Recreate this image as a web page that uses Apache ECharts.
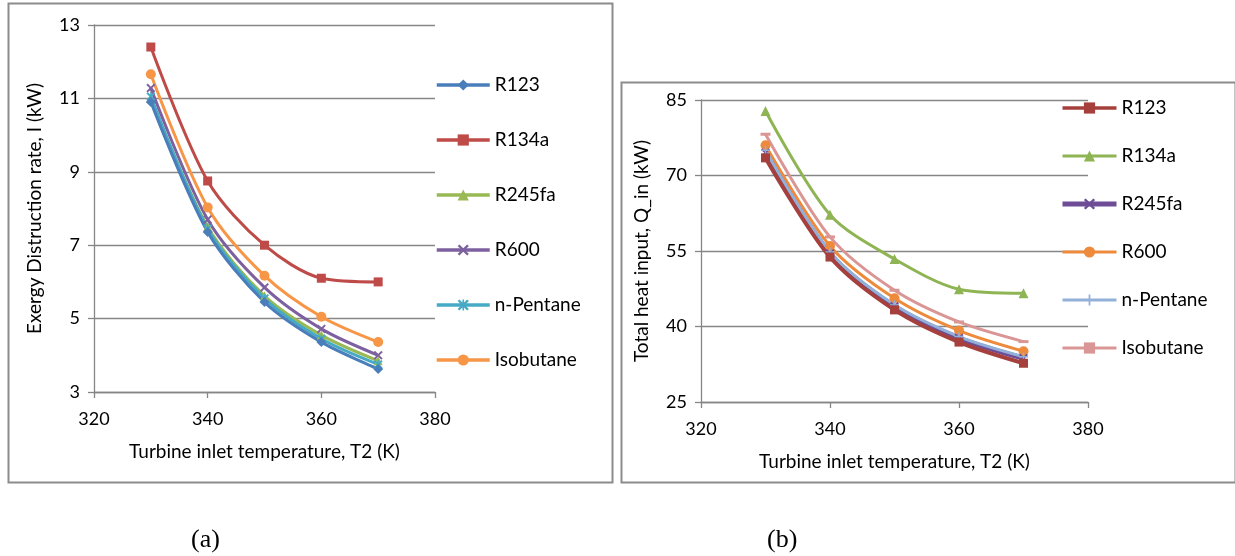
<!DOCTYPE html>
<html>
<head>
<meta charset="utf-8">
<script src="https://cdn.jsdelivr.net/npm/echarts@6/dist/echarts.min.js"></script>
<style>
  html, body { margin: 0; padding: 0; background: #fff; }
  #chart { width: 1235px; height: 556px; }
</style>
</head>
<body>
<div id="chart"></div>
<script>
// Turbine inlet temperature (K)
const temps = [330, 340, 350, 360, 370];
const xTicks = [320, 340, 360, 380];

// (a) exergy destruction rate, I (kW)
const exR123 = [10.9, 7.36, 5.45, 4.36, 3.63];
const exR134a = [12.4, 8.75, 7.0, 6.1, 6.0];
const exR245fa = [11.0, 7.5, 5.62, 4.55, 3.85];
const exR600 = [11.28, 7.7, 5.85, 4.72, 4.0];
const exPentane = [11.05, 7.45, 5.55, 4.45, 3.75];
const exIsobutane = [11.66, 8.03, 6.17, 5.05, 4.36];

// (b) total heat input, Q_in (kW)
const qR123 = [73.5, 53.8, 43.3, 36.9, 32.7];
const qR134a = [82.8, 62.2, 53.4, 47.4, 46.6];
const qR245fa = [74.5, 54.5, 44.0, 37.7, 33.7];
const qR600 = [76.0, 56.0, 45.6, 39.2, 35.1];
const qPentane = [75.0, 54.8, 44.3, 38.0, 34.0];
const qIsobutane = [78.2, 57.8, 47.2, 40.9, 37.0];

const names = ["R123", "R134a", "R245fa", "R600", "n-Pentane", "Isobutane"];

const FONT = "Lato";
const CROSS = "path://M0,1.5L1.5,0L5,3.5L8.5,0L10,1.5L6.5,5L10,8.5L8.5,10L5,6.5L1.5,10L0,8.5L3.5,5Z";
const STAR = "path://M0,1.5L1.5,0L4.3,2.8L4.3,0L5.7,0L5.7,2.8L8.5,0L10,1.5L6.5,5L10,8.5L8.5,10L5.7,7.2L5.7,10L4.3,10L4.3,7.2L1.5,10L0,8.5L3.5,5Z";
const PLUS = "path://M4.2,0H5.8V4.2H10V5.8H5.8V10H4.2V5.8H0V4.2H4.2Z";
const DASH = "path://M0,0H10V3H0Z";

function pairs(values) {
  return temps.map((t, i) => [t, values[i]]);
}

function lineSeries(name, values, color, symbol, size, width, idx) {
  return {
    name: name,
    type: "line",
    xAxisIndex: idx,
    yAxisIndex: idx,
    smooth: 0.3,
    data: pairs(values),
    symbol: symbol,
    symbolSize: size,
    showAllSymbol: true,
    lineStyle: { color: color, width: width },
    itemStyle: { color: color },
    emphasis: { disabled: true },
    animation: false,
  };
}

function xAxis(idx) {
  return {
    type: "value",
    gridIndex: idx,
    min: 320,
    max: 380,
    interval: 20,
    name: "Turbine inlet temperature, T2 (K)",
    nameLocation: "middle",
    nameGap: 50,
    nameTextStyle: { fontFamily: FONT, fontSize: 19, color: "#000" },
    axisLine: { show: true, lineStyle: { color: "#868686", width: 1.3 } },
    axisTick: { show: true, length: 6, lineStyle: { color: "#868686", width: 1.3 } },
    axisLabel: {
      fontFamily: FONT, fontSize: 18, color: "#000", margin: 18,
      formatter: (v) => (xTicks.includes(v) ? String(v) : ""),
    },
    splitLine: { show: false },
  };
}

function yAxis(idx, min, max, step, title) {
  return {
    type: "value",
    gridIndex: idx,
    min: min,
    max: max,
    interval: step,
    name: title,
    nameLocation: "middle",
    nameGap: 50,
    nameTextStyle: { fontFamily: FONT, fontSize: 19, color: "#000" },
    axisLine: { show: true, lineStyle: { color: "#868686", width: 1.3 } },
    axisTick: { show: true, length: 6, lineStyle: { color: "#868686", width: 1.3 } },
    axisLabel: { fontFamily: FONT, fontSize: 18, color: "#000", margin: 14 },
    splitLine: { show: true, lineStyle: { color: "#868686", width: 1.3 } },
  };
}

const leftColors = ["#4A7EBB", "#BE4B48", "#98B954", "#7D60A0", "#46AAC5", "#F79646"];
const rightColors = ["#A5403D", "#8FB453", "#6E4D96", "#EE8A3C", "#93B0D9", "#D99694"];
const rightLegendWidths = [3.5, 3, 5, 3, 3, 3];

const chart = echarts.init(document.getElementById("chart"), null, { renderer: "canvas" });

chart.setOption({
  backgroundColor: "#fff",
  animation: false,
  grid: [
    { left: 94, top: 25, width: 341, height: 367 },
    { left: 701, top: 100, width: 387, height: 302 },
  ],
  xAxis: [xAxis(0), xAxis(1)],
  yAxis: [
    yAxis(0, 3, 13, 2, "Exergy Distruction rate, I (kW)"),
    yAxis(1, 25, 85, 15, "Total heat input, Q_in (kW)"),
  ],
  legend: [
    {
      data: names.map((n) => ({ name: n, lineStyle: { width: 3.5 } })),
      orient: "vertical",
      left: 435,
      top: 75.5,
      padding: 0,
      itemWidth: 53,
      itemHeight: 14,
      itemGap: 36,
      textStyle: { fontFamily: FONT, fontSize: 19, color: "#000" },
      selectedMode: false,
    },
    {
      data: names.map((n, i) => ({ name: n + " ", lineStyle: { width: rightLegendWidths[i] } })),
      orient: "vertical",
      left: 1060,
      top: 98.5,
      padding: 0,
      itemWidth: 54,
      itemHeight: 14,
      itemGap: 29,
      textStyle: { fontFamily: FONT, fontSize: 19, color: "#000" },
      selectedMode: false,
    },
  ],
  title: [
    { text: "(a)", left: 191, top: 527, padding: 0, textStyle: { fontFamily: "Liberation Serif", fontSize: 26, fontWeight: "normal", color: "#000" } },
    { text: "(b)", left: 767, top: 527, padding: 0, textStyle: { fontFamily: "Liberation Serif", fontSize: 26, fontWeight: "normal", color: "#000" } },
  ],
  graphic: [
    { type: "rect", shape: { x: 8.5, y: 3.5, width: 604, height: 479 }, style: { fill: null, stroke: "#8C8C8C", lineWidth: 2 }, silent: true },
    { type: "rect", shape: { x: 621.5, y: 82.5, width: 614, height: 400 }, style: { fill: null, stroke: "#8C8C8C", lineWidth: 2 }, silent: true },
  ],
  series: [
    lineSeries("R134a", exR134a, leftColors[1], "rect", 9, 3, 0),
    lineSeries("Isobutane", exIsobutane, leftColors[5], "circle", 10, 3, 0),
    lineSeries("R600", exR600, leftColors[3], CROSS, 9, 3, 0),
    lineSeries("R245fa", exR245fa, leftColors[2], "triangle", 9, 3, 0),
    lineSeries("n-Pentane", exPentane, leftColors[4], STAR, 9, 3, 0),
    lineSeries("R123", exR123, leftColors[0], "diamond", 10, 3, 0),

    lineSeries("R134a ", qR134a, rightColors[1], "triangle", 10, 3, 1),
    lineSeries("Isobutane ", qIsobutane, rightColors[5], DASH, [10, 3], 3, 1),
    lineSeries("R600 ", qR600, rightColors[3], "circle", 10, 3, 1),
    lineSeries("R245fa ", qR245fa, rightColors[2], CROSS, 9, 5, 1),
    lineSeries("n-Pentane ", qPentane, rightColors[4], PLUS, 9, 3, 1),
    lineSeries("R123 ", qR123, rightColors[0], "rect", 9, 4, 1),
  ],
});
</script>
</body>
</html>
